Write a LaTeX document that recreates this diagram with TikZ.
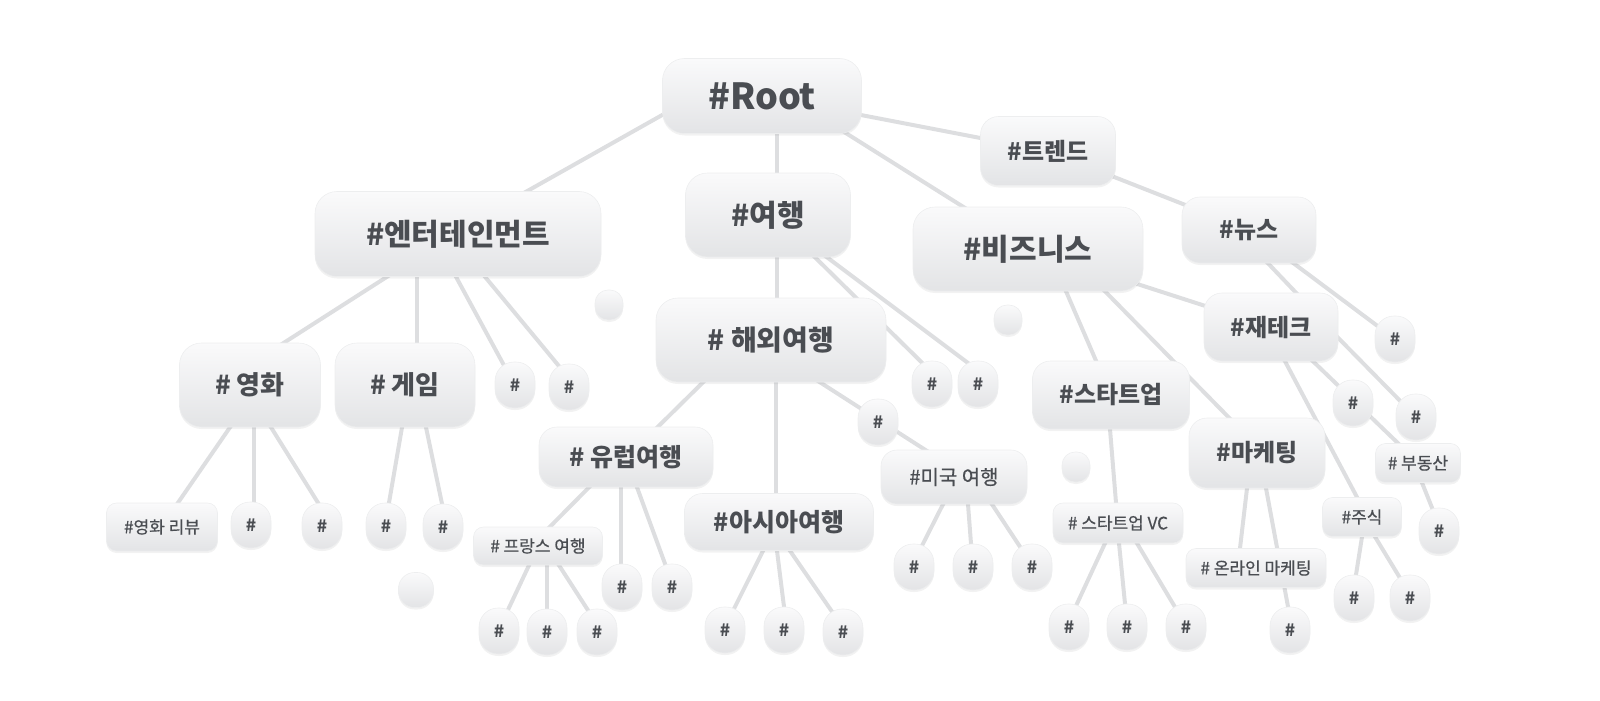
\documentclass[tikz,border=0pt]{standalone}
\usepackage{fontspec}
\setmainfont{Noto Sans CJK KR}
\usetikzlibrary{calc,shadows,backgrounds}

\definecolor{edgegray}{HTML}{DDDEE0}
\definecolor{boxtop}{HTML}{FAFAFB}
\definecolor{boxbot}{HTML}{E3E4E6}
\definecolor{boxline}{HTML}{EDEEEF}
\definecolor{tagtext}{HTML}{4A4D52}

\tikzstyle{line} = [draw=edgegray, line width=4pt, shorten <=-8pt, shorten >=-8pt]
\tikzstyle{box} = [rectangle, rounded corners=22pt, draw=boxline, line width=0.6pt,
  top color=boxtop, bottom color=boxbot, text=tagtext, inner sep=0pt,
  drop shadow={opacity=0.10, shadow xshift=0pt, shadow yshift=-2pt}]
\tikzstyle{huge} = [box, font=\fontsize{36}{40}\selectfont\bfseries]
\tikzstyle{big} = [box, font=\fontsize{30}{36}\selectfont\bfseries]
\tikzstyle{mid} = [box, rounded corners=18pt, font=\fontsize{24}{28}\selectfont\bfseries]
\tikzstyle{small} = [box, rounded corners=10pt,
  font=\fontsize{17}{20}\selectfont\addfontfeature{FakeBold=0.6}]
\tikzstyle{tag} = [box, rounded corners=19pt, minimum width=40pt, minimum height=46pt,
  font=\fontsize{17}{20}\selectfont\bfseries]
\tikzstyle{dot} = [box, rounded corners=13pt, minimum width=28pt, minimum height=30pt]

\begin{document}
\begin{tikzpicture}[x=1pt, y=-1pt]
  \useasboundingbox (0,0) rectangle (1600,701);
  % main topics
  \node [huge, minimum width=199pt, minimum height=75pt] (root) at (762,96) {\#Root};
  \node [big, minimum width=286pt, minimum height=85pt] (ent) at (458,234) {\#엔터테인먼트};
  \node [big, minimum width=165pt, minimum height=84pt] (trav) at (768,215) {\#여행};
  \node [big, minimum width=230pt, minimum height=84pt] (biz) at (1028,249) {\#비즈니스};
  \node [mid, minimum width=135pt, minimum height=69pt] (trend) at (1048,151) {\#트렌드};
  \node [mid, minimum width=134pt, minimum height=66pt] (news) at (1249,230) {\#뉴스};
  % sub topics
  \node [big, font=\fontsize{28}{32}\selectfont\bfseries, minimum width=230pt,
    minimum height=84pt] (ovs) at (771,340) {\# 해외여행};
  \node [mid, rounded corners=22pt, font=\fontsize{26}{30}\selectfont\bfseries,
    minimum width=141pt, minimum height=84pt] (film) at (250,385) {\# 영화};
  \node [mid, rounded corners=22pt, font=\fontsize{26}{30}\selectfont\bfseries,
    minimum width=140pt, minimum height=84pt] (game) at (405,385) {\# 게임};
  \node [mid, font=\fontsize{25}{30}\selectfont\bfseries,
    minimum width=174pt, minimum height=60pt] (eu) at (626,457) {\# 유럽여행};
  \node [mid, font=\fontsize{25}{30}\selectfont\bfseries,
    minimum width=189pt, minimum height=57pt] (asia) at (779,522) {\#아시아여행};
  \node [small, rounded corners=16pt, font=\fontsize{20}{24}\selectfont\addfontfeature{FakeBold=0.6},
    minimum width=146pt, minimum height=54pt] (us) at (954,477) {\#미국 여행};
  \node [small, minimum width=129pt, minimum height=38pt] (fr) at (538,546) {\# 프랑스 여행};
  \node [small, minimum width=111pt, minimum height=48pt] (rev) at (162,527) {\#영화 리뷰};
  \node [mid, minimum width=134pt, minimum height=68pt] (jt) at (1271,327) {\#재테크};
  \node [mid, minimum width=157pt, minimum height=68pt] (st) at (1111,395) {\#스타트업};
  \node [mid, minimum width=136pt, minimum height=70pt] (mk) at (1257,453) {\#마케팅};
  \node [small, minimum width=85pt, minimum height=39pt] (bu) at (1418,463) {\# 부동산};
  \node [small, minimum width=79pt, minimum height=39pt] (ju) at (1362,517) {\#주식};
  \node [small, minimum width=130pt, minimum height=40pt] (vc) at (1118,523) {\# 스타트업 VC};
  \node [small, minimum width=140pt, minimum height=39pt] (on) at (1256,568) {\# 온라인 마케팅};
  % empty tags
  \foreach \name/\x/\y in {ent1/515/385, ent2/569/387, film1/251/525, film2/322/526,
      game1/386/526, game2/443/527, trav1/932/384, trav2/978/384, ovs1/878/422,
      eu1/622/587, eu2/672/587, fr1/499/631, fr2/547/632, fr3/597/632,
      asia1/725/630, asia2/784/630, asia3/843/632, us1/914/567, us2/973/567,
      us3/1032/567, news1/1395/339, jt1/1353/403, jt2/1416/417, bu1/1439/531,
      ju1/1354/598, ju2/1410/598, vc1/1069/627, vc2/1127/627, vc3/1186/627,
      mk1/1290/630}
    \node [tag] (\name) at (\x,\y) {\#};
  \foreach \name/\x/\y in {dot1/609/305, dot2/1008/320, dot3/1076/467}
    \node [dot] (\name) at (\x,\y) {};
  \node [dot, rounded corners=16pt, minimum width=35pt, minimum height=35pt] (dot4) at (416,590) {};
  % connectors
  \begin{scope}[on background layer]
    \path [line] ($(root.west)+(0,19)$) -- ([xshift=69]ent.north);
    \path [line] (root) -- (trend);
    \path [line] (trend) -- (news);
    \path [line] (biz) -- (jt);
    \path [line] (news) -- (news1);
    \path [line] ($(jt.east)+(0,11)$) -- (jt2);
    \foreach \a/\da/\b/\db in {root/15/trav/9, root/85/biz/-65, trav/9/ovs/6,
        trav/47/trav1/-12, trav/59/trav2/-13, ent/-71/film/34, ent/-41/game/12,
        ent/-2/ent1/-13, ent/27/ent2/-12, film/-20/rev/16, film/4/film1/3,
        film/21/film2/-4, game/-3/game1/3, game/21/game2/-1, ovs/-68/eu/32,
        ovs/5/asia/-3, ovs/49/us/-29, eu/-37/fr/12, eu/-5/eu1/-1, eu/11/eu2/-7,
        fr/-9/fr1/10, fr/9/fr2/0, fr/21/fr3/-10, asia/-16/asia1/10, asia/-2/asia2/0,
        asia/11/asia3/-13, us/-11/us1/9, us/14/us2/-2, us/38/us3/-14,
        biz/38/st/-15, biz/77/mk/-28, news/19/jt/25, jt/42/bu/-20, jt/14/ju/-5,
        st/-1/vc/-2, vc/-13/vc1/8, vc/1/vc2/-2, vc/19/vc3/-13, mk/-10/on/-16,
        mk/9/mk1/-2, bu/4/bu1/-7, ju/0/ju1/2, ju/13/ju2/-12}
      \path [line] ([xshift=\da]\a.south) -- ([xshift=\db]\b.north);
  \end{scope}
\end{tikzpicture}
\end{document}
